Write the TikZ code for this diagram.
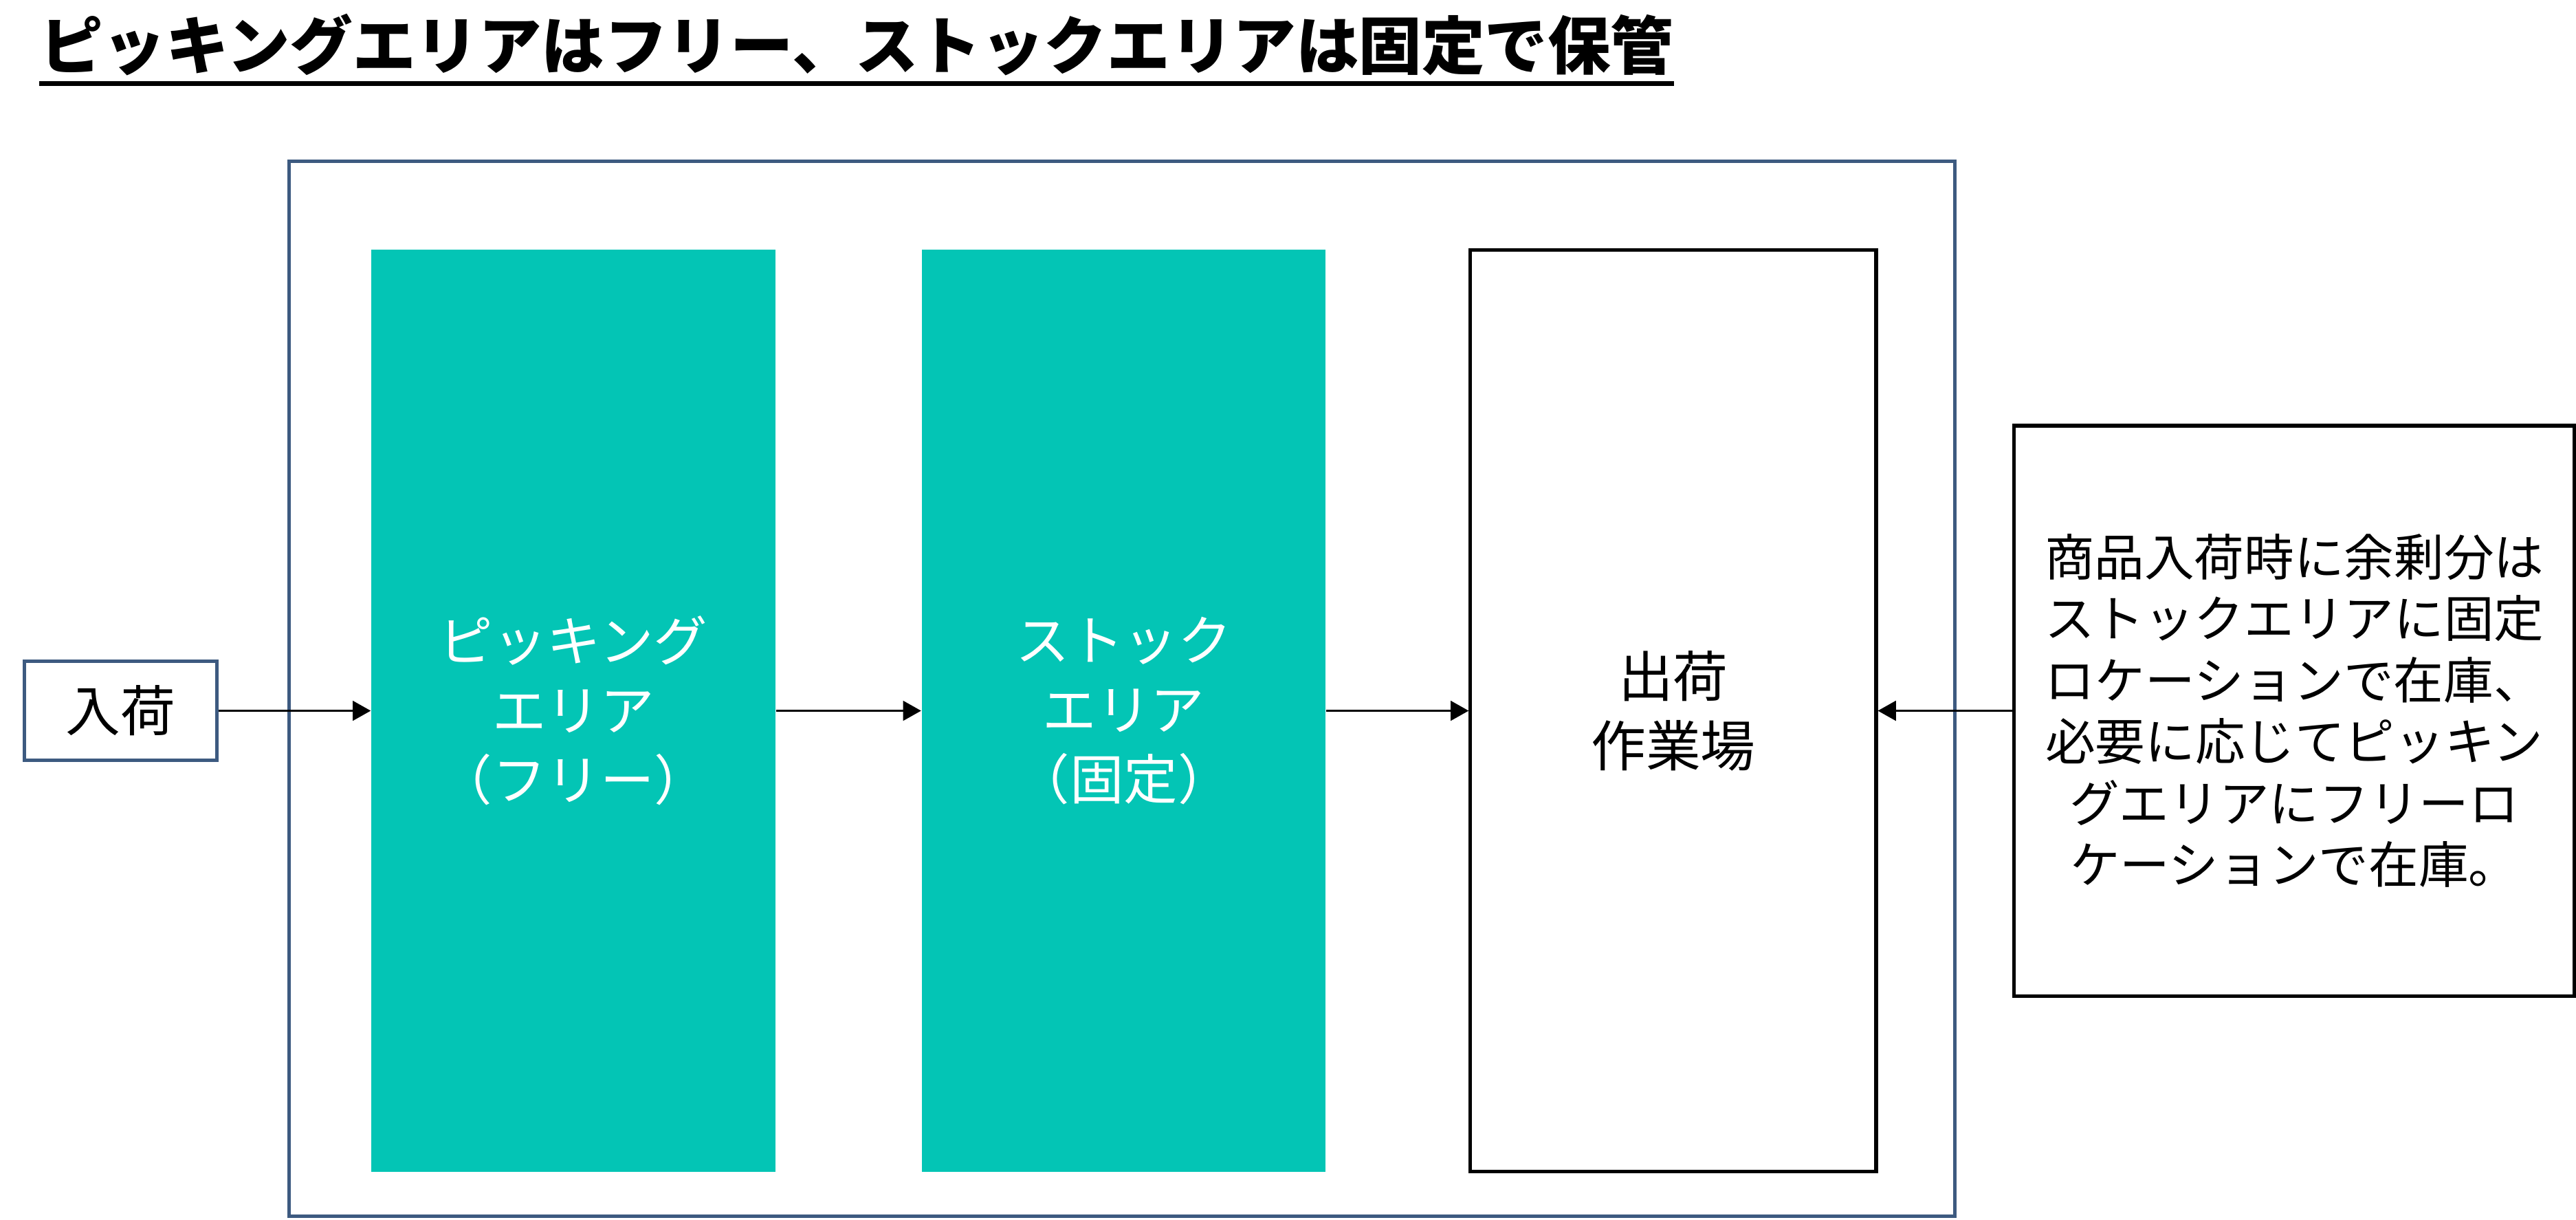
\documentclass[tikz,border=0pt]{standalone}
\usepackage{fontspec}
\setmainfont{Noto Sans CJK JP}
\usetikzlibrary{arrows.meta}
\definecolor{framebl}{HTML}{3D5A80}
\definecolor{teal}{HTML}{03C5B5}
\tikzset{
  box/.style={draw=black, line width=1.2pt, fill=white, inner sep=0pt, align=center, font=\fontsize{19}{24}\selectfont},
  gbox/.style={fill=teal, draw=none, inner sep=0pt, align=center, text=white, minimum width=4.92cm, minimum height=11.22cm, font=\fontsize{18.7}{24}\selectfont},
  conn/.style={line width=0.75pt, -{Triangle[length=0.22cm,width=0.24cm]}}
}
\begin{document}
\begin{tikzpicture}[x=0.02cm,y=-0.02cm]
\useasboundingbox (0,0) rectangle (1568,742);
% title
\node[anchor=base west, inner sep=0pt, font=\fontsize{21.8}{26}\selectfont\bfseries] (title) at (24,42) {ピッキングエリアはフリー、ストックエリアは固定で保管};
\draw[line width=1.7pt] ([yshift=-5pt]title.base west) -- ([yshift=-5pt]title.base east);
% outer frame
\node[draw=framebl, line width=1.2pt, minimum width=20.28cm, minimum height=12.84cm, inner sep=0pt] (frame) at (683,419) {};
% areas
\node[gbox] (g1) at (349,432.5) {ピッキング\\エリア\\（フリー）};
\node[gbox] (g2) at (684,432.5) {ストック\\エリア\\（固定）};
\node[box, minimum width=4.94cm, minimum height=11.22cm] (b3) at (1018.5,432.5) {出荷\\作業場};
\node[box, draw=framebl, minimum width=2.34cm, minimum height=1.2cm] (in) at (73.5,432.5) {入荷};
\node[box, minimum width=6.82cm, minimum height=6.94cm, font=\fontsize{17.3}{21.3}\selectfont] (rb) at (1396.5,432.5) {商品入荷時に余剰分は\\ストックエリアに固定\\ロケーションで在庫、\\必要に応じてピッキン\\グエリアにフリーロ\\ケーションで在庫。};
% connectors
\draw[conn] (in.east) -- (g1.west);
\draw[conn] (g1.east) -- (g2.west);
\draw[conn] (g2.east) -- (b3.west);
\draw[conn] (rb.west) -- (b3.east);
\end{tikzpicture}
\end{document}
